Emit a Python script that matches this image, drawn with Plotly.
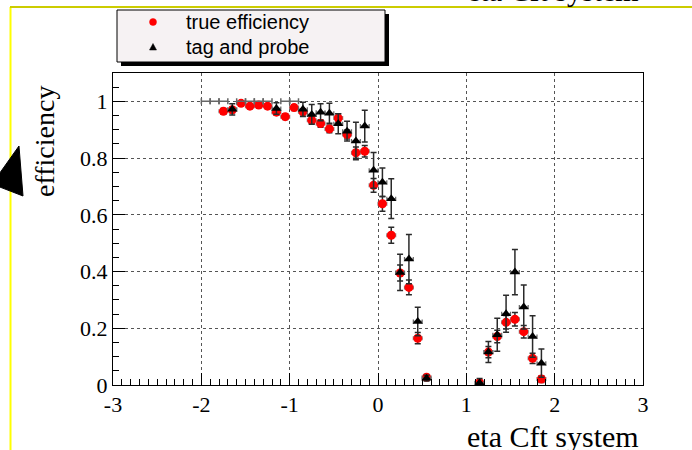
import plotly.graph_objects as go

# eta bins (bin width 0.1) and efficiencies
true_eta = [-1.75, -1.65, -1.55, -1.45, -1.35, -1.25, -1.15, -1.05, -0.95, -0.85,
            -0.75, -0.65, -0.55, -0.45, -0.35, -0.25, -0.15, -0.05, 0.05, 0.15,
            0.25, 0.35, 0.45, 0.55, 1.15, 1.25, 1.35, 1.45, 1.55, 1.65, 1.75, 1.85]
true_eff = [0.965, 0.970, 0.993, 0.983, 0.987, 0.983, 0.962, 0.946, 0.978, 0.963,
            0.933, 0.922, 0.903, 0.941, 0.883, 0.819, 0.824, 0.704, 0.639, 0.528,
            0.395, 0.344, 0.165, 0.027, 0.008, 0.116, 0.171, 0.221, 0.232, 0.188, 0.094, 0.021]
true_err = [0.010, 0.010, 0.008, 0.008, 0.008, 0.008, 0.010, 0.010, 0.010, 0.010,
            0.012, 0.013, 0.014, 0.015, 0.016, 0.020, 0.020, 0.024, 0.026, 0.028,
            0.028, 0.026, 0.020, 0.010, 0.008, 0.020, 0.022, 0.024, 0.024, 0.022, 0.018, 0.012]

tp_eta = [-1.65, -1.15, -0.85, -0.75, -0.65, -0.55, -0.45, -0.35, -0.25, -0.15,
          -0.05, 0.05, 0.15, 0.25, 0.35, 0.45, 0.55, 1.15, 1.25, 1.35,
          1.45, 1.55, 1.65, 1.75, 1.85]
tp_eff = [0.972, 0.975, 0.972, 0.954, 0.962, 0.958, 0.921, 0.895, 0.860, 0.913,
          0.757, 0.715, 0.657, 0.397, 0.444, 0.224, 0.024, 0.008, 0.116, 0.177,
          0.251, 0.398, 0.275, 0.171, 0.077]
tp_err = [0.020, 0.020, 0.025, 0.035, 0.030, 0.035, 0.035, 0.035, 0.066, 0.056,
          0.063, 0.050, 0.070, 0.064, 0.087, 0.050, 0.010, 0.015, 0.037, 0.058,
          0.065, 0.080, 0.078, 0.073, 0.050]

# tag-and-probe bins measured at full efficiency
tp_full_eta = [-1.95, -1.85, -1.75, -1.55, -1.45, -1.35, -1.25, -1.05, -0.95]
tp_full_eff = [1.0] * len(tp_full_eta)

half_bin = 0.05

x_ticks = [-3, -2, -1, 0, 1, 2, 3]
x_tick_text = ["-3", "-2", "-1", "0", "1", "2", "3"]
y_ticks = [0, 0.2, 0.4, 0.6, 0.8, 1.0]
y_tick_text = ["0", "0.2", "0.4", "0.6", "0.8", "1"]

W, H = 692, 450
L, R, T, B = 113, 643, 73, 385   # plot frame in pixels


def px(xp):
    return (xp - L) / (R - L)


def py(yp):
    return (B - yp) / (B - T)


def poly(points):
    parts = ["{} {:.4f} {:.4f}".format("M" if i == 0 else "L", px(a), py(b))
             for i, (a, b) in enumerate(points)]
    return " ".join(parts) + " Z"


serif = "Liberation Serif, Times New Roman, serif"
sans = "Liberation Sans, Arial, sans-serif"
bar_col = "#2a2a2a"

fig = go.Figure()

fig.add_trace(go.Scatter(
    x=true_eta, y=true_eff, mode="markers", name="true efficiency",
    marker=dict(symbol="circle", size=9, color="#ff0000"),
    error_y=dict(type="data", array=true_err, color=bar_col, thickness=1.5, width=3),
    error_x=dict(type="constant", value=half_bin, color="#888888", thickness=1.2, width=2),
    showlegend=False,
))

fig.add_trace(go.Scatter(
    x=tp_full_eta, y=tp_full_eff, mode="markers", name="tag and probe",
    marker=dict(symbol="triangle-up", size=1, color="rgba(0,0,0,0)"),
    error_x=dict(type="constant", value=half_bin, color="#666666", thickness=1.5, width=3),
    showlegend=False,
))

fig.add_trace(go.Scatter(
    x=tp_eta, y=tp_eff, mode="markers", name="tag and probe",
    marker=dict(symbol="triangle-up", size=9, color="#000000"),
    error_y=dict(type="data", array=tp_err, color=bar_col, thickness=1.5, width=3),
    error_x=dict(type="constant", value=half_bin, color="#666666", thickness=1.2, width=2),
    showlegend=False,
))

shapes = [
    # page frame lines
    dict(type="line", xref="paper", yref="paper", x0=px(10.5), x1=px(10.5), y0=py(7), y1=py(452),
         line=dict(color="#ffff00", width=2)),
    dict(type="line", xref="paper", yref="paper", x0=px(10), x1=px(700), y0=py(7), y1=py(7),
         line=dict(color="#cccc00", width=2)),
    # legend shadow and box
    dict(type="rect", xref="paper", yref="paper", x0=px(121), x1=px(389), y0=py(14), y1=py(66),
         fillcolor="#000000", line=dict(width=0)),
    dict(type="rect", xref="paper", yref="paper", x0=px(117), x1=px(385), y0=py(10), y1=py(62),
         fillcolor="#f6f2f3", line=dict(color="#000000", width=1)),
    # legend keys
    dict(type="circle", xref="paper", yref="paper", x0=px(149.5), x1=px(156.5), y0=py(18.5), y1=py(25.5),
         fillcolor="#ff0000", line=dict(color="#ff0000", width=0.5)),
    dict(type="path", xref="paper", yref="paper", path=poly([(153, 43.5), (149.5, 50), (156.5, 50)]),
         fillcolor="#000000", line=dict(color="#000000", width=0.5)),
    # arrow head at the left edge
    dict(type="path", xref="paper", yref="paper", path=poly([(19, 146), (-8, 184), (23, 196)]),
         fillcolor="#000000", line=dict(color="#000000", width=1)),
]

annotations = [
    dict(text="true efficiency", x=px(184), y=py(22), xref="paper", yref="paper",
         xanchor="left", yanchor="middle", showarrow=False, font=dict(family=sans, size=20, color="#000")),
    dict(text="tag and probe", x=px(184), y=py(47), xref="paper", yref="paper",
         xanchor="left", yanchor="middle", showarrow=False, font=dict(family=sans, size=20, color="#000")),
    dict(text="efficiency", x=px(44), y=py(142), xref="paper", yref="paper", textangle=-90,
         xanchor="center", yanchor="middle", showarrow=False, font=dict(family=serif, size=28, color="#000")),
    dict(text="eta Cft system", x=px(641), y=py(436), xref="paper", yref="paper",
         xanchor="right", yanchor="middle", showarrow=False, font=dict(family=serif, size=30, color="#000")),
    dict(text="eta Cft system", x=px(641), y=py(-10), xref="paper", yref="paper",
         xanchor="right", yanchor="middle", showarrow=False, font=dict(family=serif, size=30, color="#000")),
]

fig.update_layout(
    width=W, height=H,
    margin=dict(l=L, r=W - R, t=T, b=H - B, pad=0),
    paper_bgcolor="#ffffff", plot_bgcolor="#ffffff",
    showlegend=False,
    shapes=shapes, annotations=annotations,
    xaxis=dict(
        range=[-3, 3], tickmode="array", tickvals=x_ticks, ticktext=x_tick_text,
        ticks="inside", ticklen=12, tickwidth=1, tickcolor="#000",
        showline=True, linecolor="#000", linewidth=1, mirror=True,
        showgrid=True, gridcolor="#555555", griddash="dot", gridwidth=1,
        zeroline=False,
        tickfont=dict(family=serif, size=22, color="#000"),
        minor=dict(tickmode="linear", tick0=-3, dtick=0.1, ticks="inside", ticklen=6,
                   tickcolor="#000", tickwidth=1, showgrid=False),
    ),
    yaxis=dict(
        range=[0, 1.1], tickmode="array", tickvals=y_ticks, ticktext=y_tick_text,
        ticks="inside", ticklen=12, tickwidth=1, tickcolor="#000",
        showline=True, linecolor="#000", linewidth=1, mirror=True,
        showgrid=True, gridcolor="#555555", griddash="dot", gridwidth=1,
        zeroline=False,
        tickfont=dict(family=serif, size=22, color="#000"),
        minor=dict(tickmode="linear", tick0=0, dtick=0.05, ticks="inside", ticklen=6,
                   tickcolor="#000", tickwidth=1, showgrid=False),
    ),
)

fig.write_html("out.html")
